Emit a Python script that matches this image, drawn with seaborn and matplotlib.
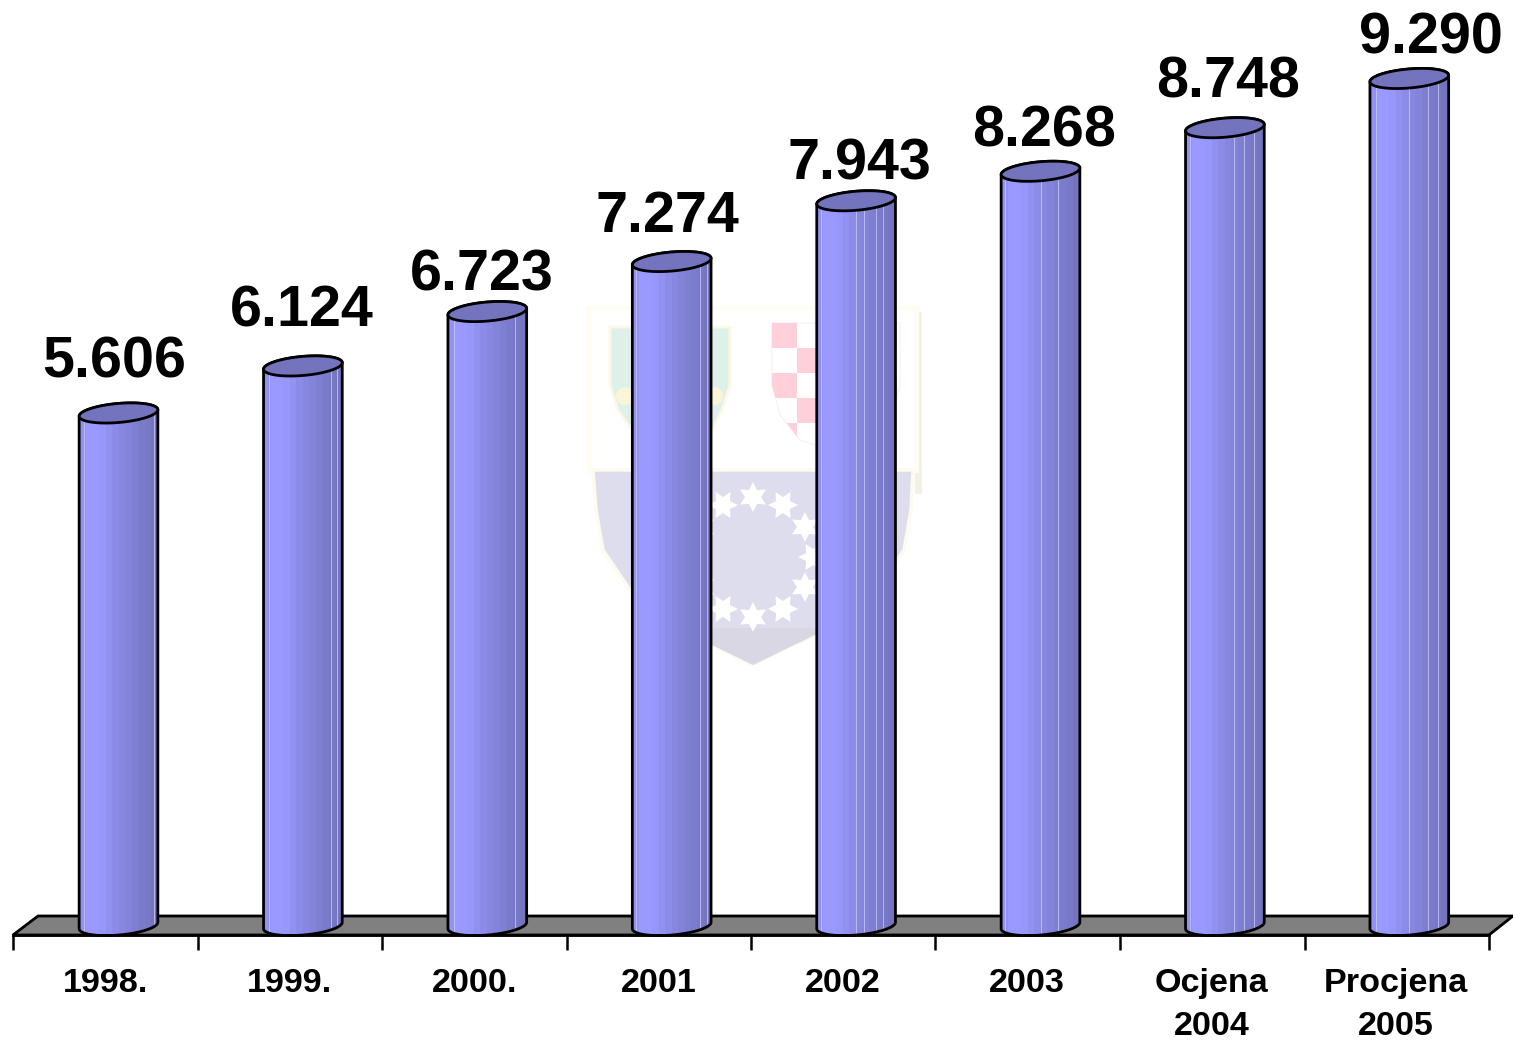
import numpy as np
import pandas as pd
import matplotlib
matplotlib.use('Agg')
import matplotlib.pyplot as plt
import seaborn as sns
from matplotlib.colors import to_rgb
from matplotlib.patches import Circle, Polygon, Rectangle
from matplotlib.path import Path
from matplotlib.transforms import Affine2D, IdentityTransform

categories = ['1998.', '1999.', '2000.', '2001', '2002', '2003', 'Ocjena\n2004', 'Procjena\n2005']
values = [5606, 6124, 6723, 7274, 7943, 8268, 8748, 9290]
value_labels = ['5.606', '6.124', '6.723', '7.274', '7.943', '8.268', '8.748', '9.290']

# label nudges, in pixels from the bar top
label_dx = [-4, -1, -5, -4, 3, 4, 3, 22]
label_dy = [35, 39, 21, 30, 21, 25, 30, 25]

band_colors = ['#9292F5', '#9999FF', '#9999FF', '#9797FB', '#9191F0', '#8C8CE8',
               '#8787DF', '#8383D9', '#7F7FD2', '#7B7BCB', '#7878C6', '#7474BF']
# pale seams on the cylinders, as a fraction of bar width
seams = [[0.06, 0.95], [0.06, 0.86, 0.94], [0.07, 0.86], [0.04, 0.86, 0.95],
         [0.05, 0.5, 0.6, 0.75, 0.85], [0.05, 0.5, 0.72], [0.05, 0.62, 0.75, 0.87],
         [0.07, 0.5, 0.74, 0.87]]

W, H = 1513, 1042
PX_PER_CAT = 184.4
PX_PER_UNIT = 0.0908
X0_PX = 118.5
Y0_PX = 922.0

sns.set_theme(style='white')
plt.rcParams['font.family'] = ['Liberation Sans', 'DejaVu Sans']

fig = plt.figure(figsize=(W / 100, H / 100), dpi=100, facecolor='white')
ax = fig.add_axes([0, 0, 1, 1])

df = pd.DataFrame({'category': categories, 'value': values})
sns.barplot(data=df, x='category', y='value', color='#8585DC', width=78 / PX_PER_CAT,
            saturation=1, ax=ax, zorder=1)
bars = list(ax.patches)

ax.set_xlim(-X0_PX / PX_PER_CAT, (W - X0_PX) / PX_PER_CAT)
ax.set_ylim(-(H - Y0_PX) / PX_PER_UNIT, Y0_PX / PX_PER_UNIT)
ax.set_xlabel('')
ax.set_ylabel('')
ax.set_yticks([])

# reference pixels (y down) to display
pixel_tf = Affine2D().scale(1, -1).translate(0, H)


def x_data(px):
    return (px - X0_PX) / PX_PER_CAT


def y_data(px):
    return (Y0_PX - px) / PX_PER_UNIT


# faint crest behind the bars
ax.add_patch(Rectangle((915, 312), 7, 182, fc='#F3F1E6', ec='none', transform=pixel_tf, zorder=0.2))
ax.add_patch(Rectangle((589, 308), 328, 163, fc='white', ec='#FFFDF0', lw=3, transform=pixel_tf, zorder=0.3))
shield = [(593, 470), (596, 510), (603, 550), (630, 590), (670, 625), (712, 645), (753, 665),
          (794, 645), (836, 625), (877, 590), (904, 550), (911, 510), (913, 470)]
lavender = Polygon(shield, closed=True, fc='#DEDDEE', ec='#FDFBEF', lw=2.5, transform=pixel_tf, zorder=0.4)
ax.add_patch(lavender)
tip = Rectangle((690, 628), 130, 40, fc='#D8D7E3', ec='none', transform=pixel_tf, zorder=0.45)
ax.add_patch(tip)
tip.set_clip_path(lavender)
for k in range(12):
    a = np.pi / 6 * k
    cx, cy = 753 + 60 * np.sin(a), 557 - 60 * np.cos(a)
    star = []
    for j in range(12):
        r = 15 if j % 2 == 0 else 8
        star.append((cx + r * np.sin(a + np.pi / 6 * j), cy - r * np.cos(a + np.pi / 6 * j)))
    ax.add_patch(Polygon(star, closed=True, fc='white', ec='none', transform=pixel_tf, zorder=0.5))

green = Polygon([(610, 327), (730, 327), (730, 385), (722, 410), (712, 430), (670, 445), (632, 430),
                 (618, 410), (610, 385)],
                closed=True, fc='#DDF1EA', ec='#FCF8E4', lw=2, transform=pixel_tf, zorder=0.5)
ax.add_patch(green)
ax.add_patch(Circle((625, 396), 9, fc='#FBF5D8', ec='none', transform=pixel_tf, zorder=0.55))
ax.add_patch(Circle((714, 396), 9, fc='#FBF5D8', ec='none', transform=pixel_tf, zorder=0.55))

red_outline = Polygon([(772, 323), (900, 323), (900, 385), (892, 415), (872, 440), (836, 452),
                       (800, 440), (780, 415), (772, 385)],
                      closed=True, fc='white', ec='#F8F2F4', lw=1, transform=pixel_tf, zorder=0.5)
ax.add_patch(red_outline)
for row in range(6):
    for col in range(5):
        if (row + col) % 2 == 0:
            sq = Rectangle((772 + 25 * col, 323 + 25 * row), 25, 25, fc='#FFD0DA', ec='none',
                           transform=pixel_tf, zorder=0.55)
            ax.add_patch(sq)
            sq.set_clip_path(red_outline)

# grey floor
ax.add_patch(Polygon([(13, 935), (38, 916), (1513, 916), (1489, 935)], closed=True, fc='#808080',
                     ec='black', lw=2, transform=pixel_tf, zorder=0.8))


def ellipse_pts(cx, cy, t):
    a, b, th = 39.5, 9.5, np.radians(5)
    return np.column_stack([cx + a * np.cos(t) * np.cos(th) - b * np.sin(t) * np.sin(th),
                            cy + a * np.cos(t) * np.sin(th) + b * np.sin(t) * np.cos(th)])


strip = np.array([[to_rgb(c) for c in band_colors]])

for i, bar in enumerate(bars):
    v = bar.get_height()
    cx, cy = ax.transData.transform((i, v))
    _, base = ax.transData.transform((i, 0))
    base -= 3.5

    top_back = ellipse_pts(cx, cy, np.linspace(0, np.pi, 40))
    bottom = ellipse_pts(cx, base, np.linspace(np.pi, 2 * np.pi, 40))
    outline = np.vstack([top_back, bottom, top_back[:1]])
    body = Path(outline, closed=True)

    bar.set_clip_path(body, IdentityTransform())
    im = ax.imshow(strip, aspect='auto', interpolation='nearest', zorder=2,
                   extent=(bar.get_x(), bar.get_x() + bar.get_width(), -300, v + 300))
    im.set_clip_path(body, IdentityTransform())

    for f in seams[i]:
        seam = ax.axvline(bar.get_x() + f * bar.get_width(), color='#C8C8F5', lw=0.7, alpha=0.8, zorder=2.1)
        seam.set_clip_path(body, IdentityTransform())

    ax.add_patch(Polygon(outline, closed=True, fc='none', ec='black', lw=2,
                         transform=IdentityTransform(), zorder=2.2))
    lid = ellipse_pts(cx, cy, np.linspace(0, 2 * np.pi, 80))
    ax.add_patch(Polygon(lid, closed=True, fc='#7373BE', ec='black', lw=2,
                         transform=IdentityTransform(), zorder=2.3))

    ax.annotate(value_labels[i], xy=(i, v), xytext=(label_dx[i], label_dy[i]), textcoords='offset pixels',
                ha='center', va='baseline', fontsize=41.4, fontweight='bold', color='black', zorder=3)

# axis along the front edge of the floor
for side in ['top', 'left', 'right']:
    ax.spines[side].set_visible(False)
ax.spines['bottom'].set_position(('data', y_data(935)))
ax.spines['bottom'].set_bounds(x_data(13), x_data(1489))
ax.spines['bottom'].set_linewidth(2)
ax.spines['bottom'].set_color('black')

slots = [x_data(13.5 + 184.3 * (k + 0.5)) for k in range(len(categories))]
ax.set_xticks(slots, labels=categories)
ax.set_xticks([x_data(13 + 184.5 * k) for k in range(len(categories) + 1)], minor=True)
ax.tick_params(axis='x', which='major', length=0, pad=24, labelsize=24.6)
ax.tick_params(axis='x', which='minor', bottom=True, length=11, width=1.8, color='black', direction='out')
for lab in ax.get_xticklabels():
    lab.set_fontweight('bold')
    lab.set_color('black')
    lab.set_linespacing(1.5)

fig.savefig('out.png', dpi=100, facecolor='white')
